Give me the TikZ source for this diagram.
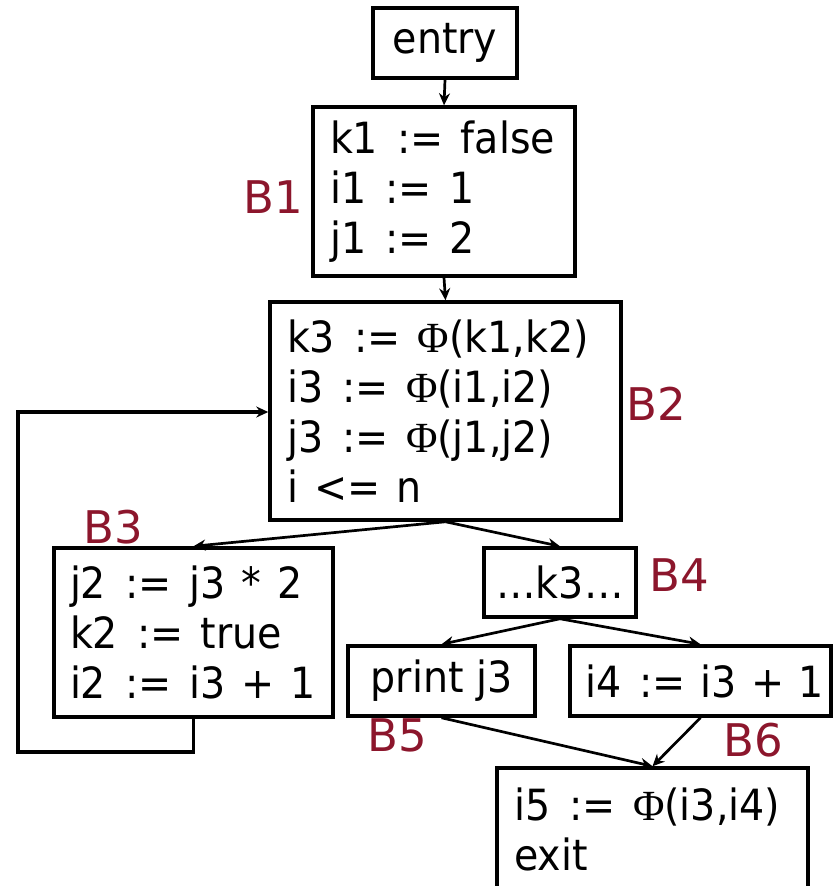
\documentclass[tikz,border=0pt]{standalone}
\usepackage{fontspec}
\setmainfont[FakeStretch=0.92]{DejaVu Sans}
\newfontfamily\labf{DejaVu Sans}
\newfontfamily\phif{Liberation Serif}
\usetikzlibrary{arrows.meta}
\definecolor{lab}{RGB}{140,22,44}
\newcommand{\Ph}{{\phif Φ}}
\newcommand{\as}{\hspace{0.12em}\ :=\ \hspace{0.06em}}
\newcommand{\op}[1]{\hspace{0.04em}\ #1\ \hspace{0.04em}}
\newcommand{\Ln}[1]{\mbox{#1}}
\begin{document}
\begin{tikzpicture}[x=1pt,y=-1pt,
  blk/.style={draw,line width=3.5pt,inner ysep=0pt,font=\fontsize{43}{50}\selectfont},
  lblock/.style={blk,align=left},
  arr/.style={-{Stealth[length=12pt,width=11pt]},line width=2.7pt},
  lbl/.style={text=lab,inner sep=0pt,font=\labf\fontsize{45}{45}\selectfont}]
\clip (0,0) rectangle (835,886);
% blocks
\node[blk,minimum width=144pt,minimum height=70pt,inner xsep=0pt] (entry) at (445,43) {entry};
\node[lblock,text width=228pt,inner xsep=17pt,minimum height=169pt] (b1) at (444,191.5)
  {\Ln{k1\as false}\\ \Ln{i1\as 1}\\ \Ln{j1\as 2}};
\node[lblock,text width=317pt,inner xsep=17pt,minimum height=218pt] (b2) at (445.5,411)
  {\Ln{k3\as\Ph(k1,k2)}\\ \Ln{i3\as\Ph(i1,i2)}\\ \Ln{j3\as\Ph(j1,j2)}\\ \Ln{i\op{<=}n}};
\node[lblock,text width=247pt,inner xsep=16pt,minimum height=169pt] (b3) at (193.5,632.5)
  {\Ln{j2\as j3\op{*}2}\\ \Ln{k2\as true}\\ \Ln{i2\as i3\op{+}1}};
\node[blk,minimum width=152pt,minimum height=69pt,inner xsep=0pt] (b4) at (560,582.5) {…k3…};
\node[blk,minimum width=187pt,minimum height=70pt,inner xsep=0pt] (b5) at (441.5,681) {print j3};
\node[blk,minimum width=261pt,minimum height=70pt,inner xsep=0pt] (b6) at (700.5,681) {\hspace{8pt}i4\as i3\op{+}1};
\node[lblock,text width=277pt,inner xsep=17pt,minimum height=122pt] (exit) at (652.5,829)
  {\Ln{i5\as\Ph(i3,i4)}\\ \Ln{exit}};
% labels
\node[lbl] (l1) at (273,197) {B1};
\node[lbl] (l2) at (656,404) {B2};
\node[lbl] (l3) at (113,527) {B3};
\node[lbl] (l4) at (679,575) {B4};
\node[lbl] (l5) at (397,735) {B5};
\node[lbl] (l6) at (753,740) {B6};
% loop corners
\coordinate (loopA) at (18,752);
\coordinate (loopB) at (18,412);
% edges
\draw[arr] (entry.south) -- (b1.north);
\draw[arr] (b1.south) -- (b2.north);
\draw[arr] (b2.south) -- (b3.north);
\draw[arr] (b2.south) -- (b4.north);
\draw[arr] (b4.south) -- (b5.north);
\draw[arr] (b4.south) -- (b6.north);
\draw[arr] (b5.south) -- (exit.north);
\draw[arr] (b6.south) -- (exit.north);
\draw[arr,line width=3.5pt] (b3.south) |- (loopA) -- (loopB) -- (b2.west |- loopB);
\end{tikzpicture}
\end{document}
